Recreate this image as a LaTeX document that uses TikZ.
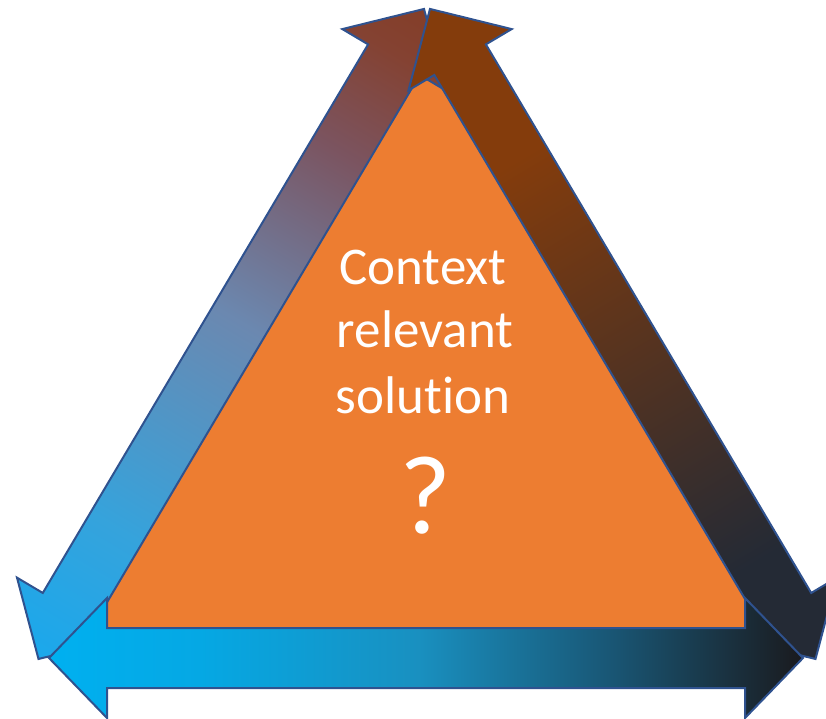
\documentclass[tikz,border=0pt]{standalone}
\usepackage{fontspec}
\setmainfont{Carlito}[Ligatures=NoCommon]
\definecolor{outl}{HTML}{2F528F}
\definecolor{orng}{HTML}{ED7D31}
\definecolor{lA}{RGB}{26,168,236}
\definecolor{lB}{RGB}{53,163,220}
\definecolor{lC}{RGB}{107,136,176}
\definecolor{lD}{RGB}{123,84,96}
\definecolor{lE}{RGB}{132,66,50}
\definecolor{lF}{RGB}{132,62,40}
\definecolor{rA}{RGB}{36,42,53}
\definecolor{rB}{RGB}{132,60,12}
\definecolor{bA}{RGB}{0,176,240}
\definecolor{bB}{RGB}{5,168,228}
\definecolor{bC}{RGB}{25,144,192}
\definecolor{bD}{RGB}{25,85,115}
\definecolor{bE}{RGB}{26,26,30}
\pgfdeclarehorizontalshading{leftsh}{100bp}{color(0bp)=(lA); color(25bp)=(lA); color(35bp)=(lB); color(51bp)=(lC); color(64bp)=(lD); color(71.5bp)=(lE); color(75bp)=(lF); color(100bp)=(lF)}
\pgfdeclarehorizontalshading{rightsh}{100bp}{color(0bp)=(rA); color(32.5bp)=(rA); color(63.5bp)=(rB); color(100bp)=(rB)}
\pgfdeclarehorizontalshading{bottomsh}{100bp}{color(0bp)=(bA); color(25bp)=(bA); color(35bp)=(bB); color(49.5bp)=(bC); color(62.5bp)=(bD); color(75bp)=(bE); color(100bp)=(bE)}
\tikzset{
  arrowline/.style={draw=outl, line width=2pt},
  lbl/.style={text=white, anchor=base, inner sep=0pt},
}
\newcommand{\dblarrow}[1]{(0,0) -- (59,60) -- (59,30) -- (#1-59,30) -- (#1-59,60) -- (#1,0) -- (#1-59,-60) -- (#1-59,-30) -- (59,-30) -- (59,-60) -- cycle}
\begin{document}
\begin{tikzpicture}[x=1pt,y=1pt]
\useasboundingbox (0,0) rectangle (826,718);
% reference lines for the orange triangle (under the arrows)
\begin{scope}[shift={(38.5,59)},rotate=59.33]
  \coordinate (L1) at (0,-22);
  \coordinate (L2) at (755.8,-22);
\end{scope}
\begin{scope}[shift={(815.5,59)},rotate=120.67]
  \coordinate (R1) at (0,22);
  \coordinate (R2) at (755.8,22);
\end{scope}
\coordinate (B1) at (0,82);
\coordinate (B2) at (826,82);
% orange triangle
\fill[orng] (intersection of L1--L2 and R1--R2) -- (intersection of L1--L2 and B1--B2) -- (intersection of R1--R2 and B1--B2) -- cycle;
% left arrow
\begin{scope}[transform canvas={shift={(38.5,59)},rotate=59.33}]
  \shade[shading=leftsh, arrowline] \dblarrow{755.8};
\end{scope}
% right arrow
\begin{scope}[transform canvas={shift={(815.5,59)},rotate=120.67}]
  \shade[shading=rightsh, arrowline] \dblarrow{755.8};
\end{scope}
% bottom arrow
\begin{scope}[transform canvas={shift={(49,60)}}]
  \shade[shading=bottomsh, arrowline] (0,0) -- (58,60) -- (58,30) -- (696,30) -- (696,60) -- (754,0) -- (696,-60) -- (696,-30) -- (58,-30) -- (58,-60) -- cycle;
\end{scope}
% text
\node[lbl, font=\fontsize{53}{64}\selectfont] (t1) at (423,433) {Context};
\node[lbl, font=\fontsize{53}{64}\selectfont] (t2) at (425,370) {relevant};
\node[lbl, font=\fontsize{53}{64}\selectfont] (t3) at (423,305) {solution};
\node[lbl, font=\fontsize{112}{120}\selectfont] (t4) at (425,185) {?};
\end{tikzpicture}
\end{document}
